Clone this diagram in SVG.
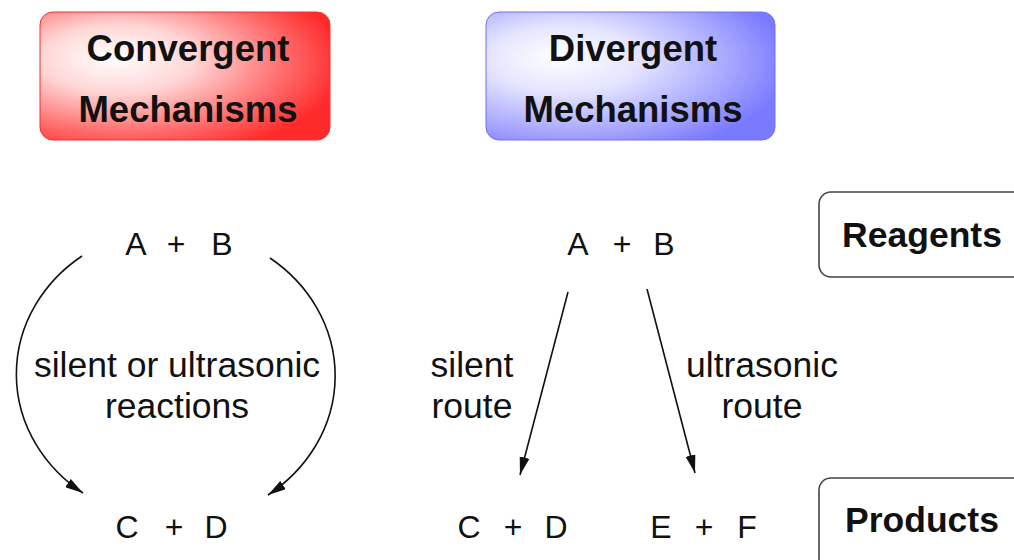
<svg xmlns="http://www.w3.org/2000/svg" width="1014" height="560" viewBox="0 0 1014 560">
<defs>
<radialGradient id="gRed" cx="0.3" cy="0.4" r="0.75" fx="0.25" fy="0.35">
<stop offset="0" stop-color="#ffffff"/>
<stop offset="0.35" stop-color="#ffd6d6"/>
<stop offset="0.75" stop-color="#ff6a6a"/>
<stop offset="1" stop-color="#ff2a2a"/>
</radialGradient>
<radialGradient id="gBlue" cx="0.3" cy="0.4" r="0.75" fx="0.25" fy="0.35">
<stop offset="0" stop-color="#ffffff"/>
<stop offset="0.35" stop-color="#e4e4ff"/>
<stop offset="0.75" stop-color="#a5a5ff"/>
<stop offset="1" stop-color="#7a7aff"/>
</radialGradient>
<marker id="arr" viewBox="0 0 18 10" refX="18" refY="5" markerWidth="18" markerHeight="10" markerUnits="userSpaceOnUse" orient="auto">
<path d="M0,0 L18,5 L0,10 Z" fill="#111"/>
</marker>
</defs>
<style>
.hd{font-family:"Liberation Sans",Arial,sans-serif;font-weight:bold;font-size:36.5px;fill:#111;text-anchor:middle}
.lb{font-family:"Liberation Sans",Arial,sans-serif;font-weight:bold;font-size:35.5px;fill:#111;text-anchor:middle}
.t{font-family:"Liberation Sans",Arial,sans-serif;font-size:35.5px;fill:#111;text-anchor:middle}
.m{font-family:"Liberation Sans",Arial,sans-serif;font-size:32px;fill:#111;text-anchor:middle}
.side{fill:#fff;stroke:#444;stroke-width:1.6}
.c{fill:none;stroke:#111;stroke-width:1.6;marker-end:url(#arr)}
</style>
<rect width="1014" height="560" fill="#fff"/>
<g id="convergent">
<rect x="40" y="12" width="290" height="128" rx="13" fill="url(#gRed)" stroke="#f03030" stroke-width="1"/>
<text class="hd" x="188" y="61">Convergent</text>
<text class="hd" x="188" y="122">Mechanisms</text>
</g>
<g id="divergent">
<rect x="486" y="12" width="289" height="128" rx="13" fill="url(#gBlue)" stroke="#7070f0" stroke-width="1"/>
<text class="hd" x="633" y="61">Divergent</text>
<text class="hd" x="633" y="122">Mechanisms</text>
</g>
<g id="reagents">
<rect class="side" x="819" y="192" width="220" height="85" rx="12"/>
<text class="lb" x="922" y="247">Reagents</text>
</g>
<g id="products">
<rect class="side" x="819" y="478" width="220" height="100" rx="12"/>
<text class="lb" x="922" y="532">Products</text>
</g>
<g id="conv-ab">
<text class="m" x="136" y="255">A</text><text class="m" x="176" y="255">+</text><text class="m" x="222" y="255">B</text>
</g>
<g id="conv-label">
<text class="t" x="177" y="377">silent or ultrasonic</text>
<text class="t" x="177" y="418">reactions</text>
</g>
<g id="conv-cd">
<text class="m" x="127" y="538">C</text><text class="m" x="174" y="538">+</text><text class="m" x="216" y="538">D</text>
</g>
<g id="div-ab">
<text class="m" x="578" y="255">A</text><text class="m" x="622" y="255">+</text><text class="m" x="664" y="255">B</text>
</g>
<g id="div-silent">
<text class="t" x="472" y="377">silent</text>
<text class="t" x="472" y="418">route</text>
</g>
<g id="div-ultra">
<text class="t" x="762" y="377">ultrasonic</text>
<text class="t" x="762" y="418">route</text>
</g>
<g id="div-cd">
<text class="m" x="469" y="538">C</text><text class="m" x="513" y="538">+</text><text class="m" x="556" y="538">D</text>
</g>
<g id="div-ef">
<text class="m" x="661" y="538">E</text><text class="m" x="704" y="538">+</text><text class="m" x="747" y="538">F</text>
</g>
<g id="connectors">
<path class="c" d="M82,256 A162,147 0 0,0 83,493"/>
<path class="c" d="M270,258 A162,147 0 0,1 268,495"/>
<path class="c" d="M568,292 L520,475"/>
<path class="c" d="M647,289 L695,473"/>
</g>
</svg>
